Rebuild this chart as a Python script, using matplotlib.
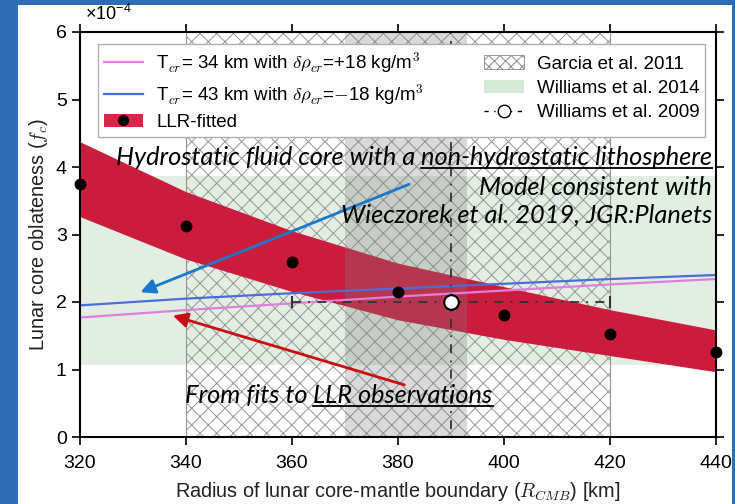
import matplotlib
matplotlib.use("Agg")
import matplotlib.pyplot as plt
from matplotlib.patches import Patch, Rectangle
from matplotlib.lines import Line2D

plt.rcParams['font.family'] = ['Liberation Sans', 'DejaVu Sans']
plt.rcParams['mathtext.fontset'] = 'cm'
plt.rcParams['hatch.linewidth'] = 0.7

# ---- data ----
radius = [320, 340, 360, 380, 400, 420, 440]
llr_center = [3.75, 3.13, 2.60, 2.15, 1.81, 1.53, 1.26]
llr_upper = [4.37, 3.63, 3.05, 2.57, 2.22, 1.88, 1.58]
llr_lower = [3.26, 2.63, 2.15, 1.73, 1.44, 1.20, 0.96]
model_34 = [1.77, 1.88, 1.98, 2.08, 2.17, 2.26, 2.34]
model_43 = [1.95, 2.05, 2.13, 2.20, 2.27, 2.34, 2.40]
garcia_range = [340, 420]
williams2014_fc = [1.06, 3.86]
williams2009_r = 390
williams2009_fc = 2.0
williams2009_rerr = 30
grey_range = [370, 393]
xticks = [320, 340, 360, 380, 400, 420, 440]
yticks = [0, 1, 2, 3, 4, 5, 6]

BLUE_BG = '#2d6db3'
RED = '#cc1c3c'

fig = plt.figure(figsize=(7.35, 5.04), dpi=100, facecolor=BLUE_BG)
fig.patches.append(Rectangle((18/735, 0), 714/735, 499/504, transform=fig.transFigure,
                             facecolor='white', edgecolor='none', zorder=-5))
ax = fig.add_axes([80/735, 67/504, 636/735, 405/504])
ax.set_facecolor('none')

# Williams 2014 band
ax.axhspan(williams2014_fc[0], williams2014_fc[1], facecolor='#e3eee3', edgecolor='none', zorder=1)
# Garcia 2011 hatched region
ax.fill_between(garcia_range, 0, 6, facecolor='none', edgecolor='#959595', hatch='xx',
                linewidth=0.8, zorder=2)
# LLR-fitted band
ax.fill_between(radius, llr_lower, llr_upper, facecolor=RED, edgecolor='none', zorder=3)
# grey band
ax.axvspan(grey_range[0], grey_range[1], facecolor='#7a7a7a', alpha=0.28, edgecolor='none', zorder=4)
# model lines
ax.plot(radius, model_34, color='#e07ee0', lw=1.6, zorder=5)
ax.plot(radius, model_43, color='#4a6ed8', lw=1.6, zorder=5)
# LLR dots
ax.plot(radius, llr_center, 'o', color='black', ms=7.5, zorder=6, clip_on=False)
# Williams 2009
eb = ax.errorbar(williams2009_r, williams2009_fc, xerr=williams2009_rerr, yerr=10, fmt='o',
                 mfc='white', mec='black', mew=1.5, ms=10.5, ecolor='#333333', elinewidth=1.3,
                 capsize=4, zorder=7)
for c in eb[2]:
    c.set_linestyle((0, (5, 4, 1, 4)))

ax.set_xlim(320, 440)
ax.set_ylim(0, 6)
ax.set_xticks(xticks)
ax.set_yticks(yticks)
ax.tick_params(direction='out', length=6, width=1.2, labelsize=14, top=True, right=True,
               labeltop=False, labelright=False, colors='black')
ax.tick_params(axis='x', pad=7)
for s in ax.spines.values():
    s.set_linewidth(1.5)
    s.set_zorder(10)
ax.set_xlabel(r'Radius of lunar core-mantle boundary ($R_{CMB}$) [km]', fontsize=14.3,
              color='#222222', labelpad=6)
ax.set_ylabel(r'Lunar core oblateness ($f_c$)', fontsize=14.3, color='#222222')
fig.text(85/735, 1 - 14/504, r'$\mathregular{\times10^{-4}}$', fontsize=13, va='center', ha='left')

# legend
handles = [
    Line2D([], [], color='#e07ee0', lw=1.6),
    Line2D([], [], color='#4a6ed8', lw=1.6),
    (Patch(facecolor='#dc2449'), Line2D([], [], marker='o', color='black', ls='none', ms=7)),
    Patch(facecolor='white', edgecolor='#8a8a8a', hatch='xxx', lw=0.6),
    Patch(facecolor='#d5ead5', edgecolor='none'),
    Line2D([], [], color='black', ls=(0, (3, 4, 1, 4)), marker='o', mfc='white', mec='black',
           ms=9, lw=1),
]
labels = [
    r'T$_{cr}$= 34 km with $\delta\rho_{cr}$=+18 kg/m$^3$',
    r'T$_{cr}$= 43 km with $\delta\rho_{cr}$=$-$18 kg/m$^3$',
    'LLR-fitted',
    'Garcia et al. 2011',
    'Williams et al. 2014',
    'Williams et al. 2009',
]
leg = ax.legend(handles, labels, ncol=2, loc='upper left',
                bbox_to_anchor=(18/636, 0.75, 607/636, (437-44)/405 - 0.75),
                mode='expand', fontsize=13.5, frameon=True, fancybox=False, edgecolor='#b0b0b0',
                framealpha=1, handlelength=2.1, numpoints=1, borderpad=0.3, labelspacing=0.38,
                handletextpad=0.7, borderaxespad=0)
leg.get_frame().set_linewidth(1.0)
leg.set_zorder(20)

# annotations
tfont = dict(family=['Lato', 'DejaVu Sans'], style='italic', fontsize=18.3, color='black', zorder=25)
t1b = ax.text(439.2, 4.03, 'non-hydrostatic lithosphere', ha='right', va='baseline', **tfont)
t1a = ax.annotate('Hydrostatic fluid core with a ', xy=(0, 0), xycoords=t1b, ha='right', va='bottom', **tfont)
ax.text(439.2, 3.58, 'Model consistent with', ha='right', va='baseline', **tfont)
ax.text(439.2, 3.17, 'Wieczorek et al. 2019, JGR:Planets', ha='right', va='baseline', **tfont)
t2a = ax.text(339.8, 0.50, 'From fits to ', ha='left', va='baseline', **tfont)
t2b = ax.annotate('LLR observations', xy=(1, 0), xycoords=t2a, ha='left', va='bottom', **tfont)

ax.annotate('', xy=(330.9, 2.13), xytext=(382.6, 3.76),
            arrowprops=dict(arrowstyle='-|>', color='#1a78cc', lw=2, mutation_scale=22), zorder=24)
ax.annotate('', xy=(337.0, 1.81), xytext=(381.7, 0.76),
            arrowprops=dict(arrowstyle='-|>', color='#c81010', lw=2, mutation_scale=22), zorder=24)

fig.canvas.draw()
r = fig.canvas.get_renderer()
inv = fig.transFigure.inverted()
for t in (t1b, t2b):
    bb = t.get_window_extent(r)
    (x0, y0) = inv.transform((bb.x0, bb.y0 + 1))
    (x1, _) = inv.transform((bb.x1, bb.y0 + 1))
    fig.add_artist(Line2D([x0, x1], [y0, y0], transform=fig.transFigure, color='black', lw=1.3, zorder=30))

fig.savefig('out.png', dpi=100, facecolor=BLUE_BG)
